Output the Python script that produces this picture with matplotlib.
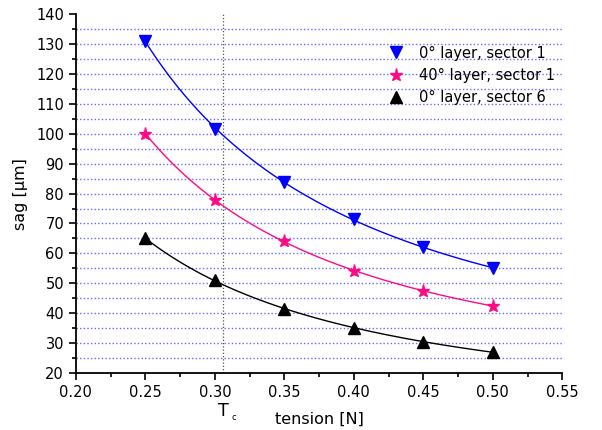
import numpy as np
import matplotlib
matplotlib.use("Agg")
import matplotlib.pyplot as plt
from matplotlib.ticker import MultipleLocator

tension = [0.25, 0.30, 0.35, 0.40, 0.45, 0.50]
sag_0deg_s1 = [131.0, 101.5, 84.0, 71.5, 62.0, 55.0]
sag_40deg_s1 = [100.0, 78.0, 64.0, 54.0, 47.5, 42.5]
sag_0deg_s6 = [65.0, 51.0, 41.5, 35.0, 30.5, 27.0]
labels = ["0° layer, sector 1", "40° layer, sector 1", "0° layer, sector 6"]
t_c = 0.306

plt.rcParams['font.family'] = ['DejaVu Sans']
fig = plt.figure(figsize=(6.02, 4.30), dpi=100)
ax = fig.add_axes([0.126, 0.1326, 0.808, 0.8344])

ax.set_xlim(0.20, 0.55)
ax.set_ylim(20, 140)

# grid lines
for g in np.arange(25, 140, 5):
    ax.axhline(g, color='#6a6aff', lw=1.0, ls=(0, (1, 1.6)), zorder=1)
ax.axvline(t_c, color='#555555', lw=0.9, ls=(0, (1, 1.6)), zorder=1)

series = [
    (sag_0deg_s1, '#0000ff', 'v', 9),
    (sag_40deg_s1, '#ff0a84', '*', 9.5),
    (sag_0deg_s6, '#000000', '^', 9),
]
xs = np.linspace(min(tension), max(tension), 200)
handles = []
for (vals, col, mk, ms), lab in zip(series, labels):
    coef = np.polyfit(1.0 / np.array(tension), vals, 2)
    ax.plot(xs, np.polyval(coef, 1.0 / xs), color=col, lw=1.0, zorder=2)
    h, = ax.plot(tension, vals, ls='none', marker=mk, ms=ms, color=col,
                 mec=col, zorder=3, label=lab)
    handles.append(h)

ax.legend(handles=handles, loc='upper right', bbox_to_anchor=(1.003, 0.937),
          frameon=False, fontsize=10.5, handletextpad=1.0, labelspacing=0.5,
          handlelength=1.2, borderaxespad=0.2)

for s in ['top', 'right']:
    ax.spines[s].set_visible(False)
for s in ['left', 'bottom']:
    ax.spines[s].set_linewidth(1.3)

ax.xaxis.set_major_locator(MultipleLocator(0.05))
ax.xaxis.set_minor_locator(MultipleLocator(0.025))
ax.yaxis.set_major_locator(MultipleLocator(10))
ax.yaxis.set_minor_locator(MultipleLocator(5))
ax.xaxis.set_major_formatter(matplotlib.ticker.FormatStrFormatter('%.2f'))
ax.tick_params(which='major', direction='out', length=5, width=1.2, labelsize=10.5)
ax.tick_params(which='minor', direction='out', length=3, width=1.2)

ax.set_xlabel('tension [N]', fontsize=11.5, labelpad=9)
ax.set_ylabel('sag [µm]', fontsize=11.5, labelpad=6)

ax.text(t_c, -0.105, 'T', transform=ax.get_xaxis_transform(), ha='center',
        va='center', fontsize=12.5)
ax.text(t_c + 0.008, -0.125, 'c', transform=ax.get_xaxis_transform(), ha='center',
        va='center', fontsize=6)

fig.savefig('out.png', dpi=100)
